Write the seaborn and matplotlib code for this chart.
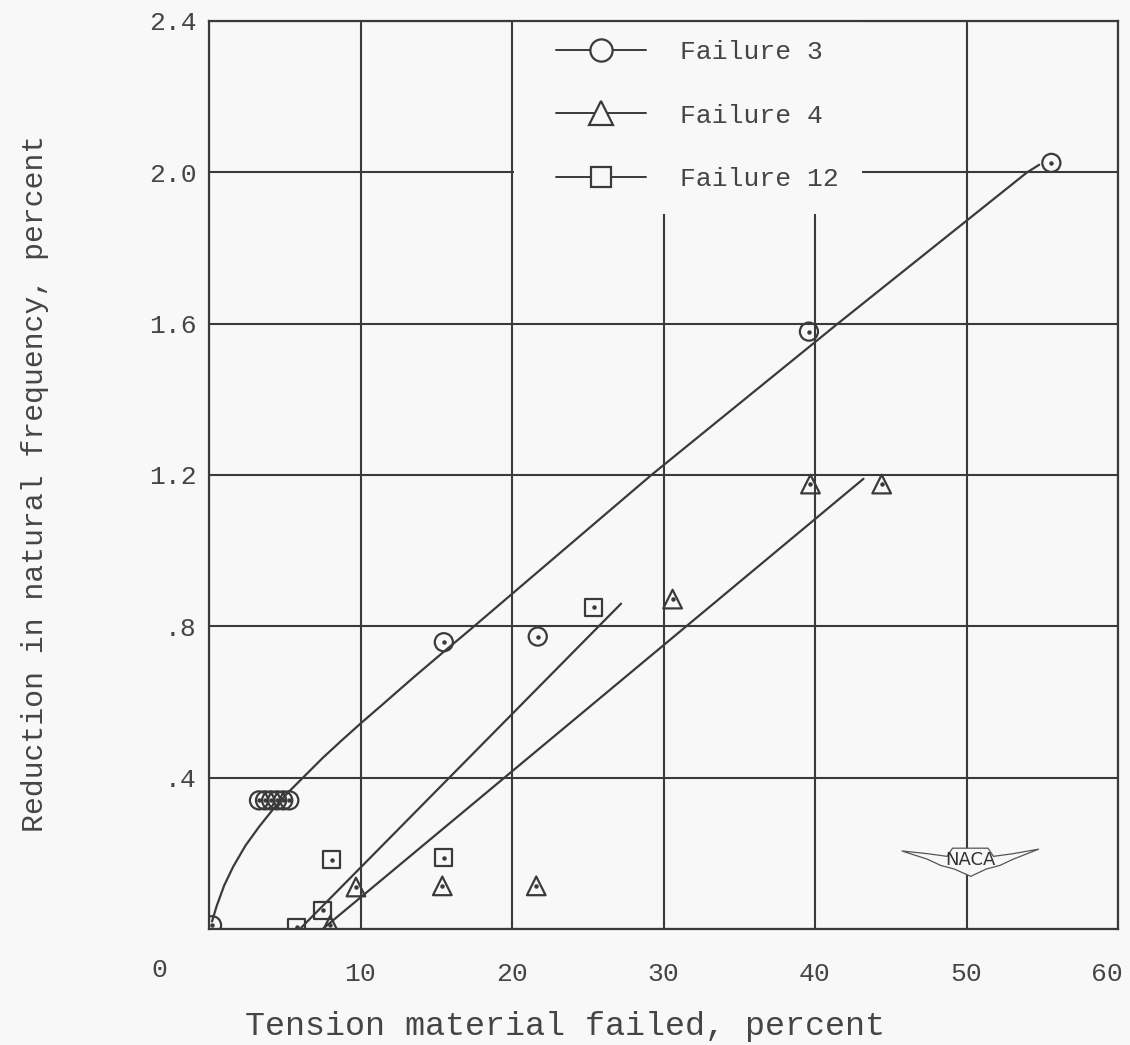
import numpy as np
import pandas as pd
import matplotlib
matplotlib.use("Agg")
import matplotlib.pyplot as plt
from matplotlib.lines import Line2D
from matplotlib.patches import Rectangle, Polygon
from matplotlib.transforms import ScaledTranslation
import seaborn as sns

# ---- data ----
f3_x = [0.2, 3.3, 3.7, 4.1, 4.5, 4.9, 5.3, 15.5, 21.7, 39.6, 55.6]
f3_y = [0.01, 0.34, 0.34, 0.34, 0.34, 0.34, 0.34, 0.758, 0.773, 1.579, 2.025]

f4_x = [8.0, 9.7, 15.4, 21.6, 30.6, 39.7, 44.4]
f4_y = [0.01, 0.111, 0.114, 0.114, 0.872, 1.176, 1.176]

f12_x = [5.8, 7.5, 8.1, 15.5, 25.4]
f12_y = [0.005, 0.05, 0.183, 0.188, 0.850]

# faired curves drawn on the chart
f3_curve_x = [0.2, 0.5, 1.0, 1.6, 2.4, 3.3, 4.3, 5.2, 6.2, 7.5, 8.8, 10.0,
              11.5, 13.5, 15.5, 17.2, 29.2, 41.5, 54.0, 54.8]
f3_curve_y = [0.02, 0.06, 0.115, 0.165, 0.22, 0.27, 0.32, 0.36, 0.40, 0.452, 0.50, 0.543,
              0.595, 0.665, 0.733, 0.79, 1.20, 1.60, 2.00, 2.02]
f4_curve_x = [7.5, 43.2]
f4_curve_y = [0.0, 1.19]
f12_curve_x = [6.0, 27.2]
f12_curve_y = [0.0, 0.86]

series_names = ["Failure 3", "Failure 4", "Failure 12"]
x_ticks = [10, 20, 30, 40, 50, 60]
x_tick_labels = ["10", "20", "30", "40", "50", "60"]
y_ticks = [0.4, 0.8, 1.2, 1.6, 2.0, 2.4]
y_tick_labels = [".4", ".8", "1.2", "1.6", "2.0", "2.4"]

# ---- style ----
sns.set_theme(style="white")
FONT = ["Liberation Mono", "DejaVu Sans Mono"]
plt.rcParams["font.family"] = FONT
BG = "#f8f8f8"
INK = "#3a3a3a"
TXT = "#454545"

fig = plt.figure(figsize=(11.3, 10.45), dpi=100, facecolor=BG)
ax = fig.add_axes([209 / 1130, 1 - 929 / 1045, 909 / 1130, 908 / 1045])
ax.set_facecolor(BG)

ax.set_xlim(0, 60)
ax.set_ylim(0, 2.4)
ax.set_xticks([0] + x_ticks)
ax.set_xticklabels([""] + x_tick_labels)
ax.set_yticks([0] + y_ticks)
ax.set_yticklabels([""] + y_tick_labels)
ax.tick_params(axis="both", length=0, labelsize=19, labelcolor=TXT)
ax.tick_params(axis="x", pad=24)
ax.tick_params(axis="y", pad=9)
ax.grid(True, color=INK, linewidth=1.5)
ax.set_axisbelow(True)
for s in ax.spines.values():
    s.set_color(INK)
    s.set_linewidth(1.6)

# last x label sits a little left of its grid line in the reference
last = ax.get_xticklabels()[-1]
last.set_transform(last.get_transform() + ScaledTranslation(-8 / 72, 0, fig.dpi_scale_trans))

# origin label placed left of the axis as in the reference
ax.text(-3.3, -0.045, "0", transform=ax.get_xaxis_transform(),
        ha="center", va="center", fontsize=19, color=TXT)

# white area behind legend (covers grid lines)
ax.add_patch(Rectangle((0.336, 0.787), 0.382, 0.213, transform=ax.transAxes,
                       facecolor=BG, edgecolor="none", zorder=1.2))

# faired lines
lw = 1.6
sns.lineplot(x=f3_curve_x, y=f3_curve_y, ax=ax, color=INK, linewidth=lw, sort=False, zorder=2)
sns.lineplot(x=f4_curve_x, y=f4_curve_y, ax=ax, color=INK, linewidth=lw, sort=False, zorder=2)
sns.lineplot(x=f12_curve_x, y=f12_curve_y, ax=ax, color=INK, linewidth=lw, sort=False, zorder=2)

# data points
mk = dict(facecolor="none", edgecolor=INK, linewidth=1.6, zorder=3)
sns.scatterplot(x=f3_x, y=f3_y, ax=ax, marker="o", s=170, **mk)
sns.scatterplot(x=f4_x, y=f4_y, ax=ax, marker="^", s=180, **mk)
sns.scatterplot(x=f12_x, y=f12_y, ax=ax, marker="s", s=150, **mk)
for xs, ys in [(f3_x, f3_y), (f4_x, f4_y), (f12_x, f12_y)]:
    ax.plot(xs, ys, linestyle="none", marker="o", markersize=2.2, color=INK, zorder=4)

# legend
handles = [
    Line2D([], [], color=INK, lw=1.4, marker="o", markersize=16, markerfacecolor=BG, markeredgewidth=1.6),
    Line2D([], [], color=INK, lw=1.4, marker="^", markersize=17, markerfacecolor=BG, markeredgewidth=1.6),
    Line2D([], [], color=INK, lw=1.4, marker="s", markersize=14, markerfacecolor=BG, markeredgewidth=1.6),
]
leg = ax.legend(handles, series_names, loc="upper left", bbox_to_anchor=(0.382, 0.979),
                frameon=False, fontsize=19, handlelength=3.4, handletextpad=1.3,
                labelspacing=1.5, borderpad=0, borderaxespad=0)
for t in leg.get_texts():
    t.set_color(TXT)

# NACA emblem (decoration)
wing = np.array([[0.762, 0.086], [0.790, 0.083], [0.812, 0.080], [0.818, 0.089],
                 [0.857, 0.089], [0.863, 0.080], [0.885, 0.083], [0.913, 0.088],
                 [0.885, 0.077], [0.870, 0.070], [0.855, 0.066], [0.838, 0.058],
                 [0.820, 0.066], [0.805, 0.070], [0.790, 0.077]])
ax.add_patch(Polygon(wing, closed=True, transform=ax.transAxes, facecolor=BG,
                     edgecolor="#555555", linewidth=0.9, zorder=3))
ax.text(0.838, 0.076, "NACA", transform=ax.transAxes, ha="center", va="center",
        fontsize=13, color="#333333", family=["DejaVu Sans"], zorder=4)

# axis titles
fig.text(565 / 1130, 1 - 1027 / 1045, "Tension material failed, percent",
         ha="center", va="center", fontsize=24, color=TXT)
fig.text(35 / 1130, 1 - 483 / 1045, "Reduction in natural frequency, percent",
         ha="center", va="center", rotation=90, fontsize=21.5, color=TXT)

fig.savefig("out.png", dpi=100, facecolor=BG)
